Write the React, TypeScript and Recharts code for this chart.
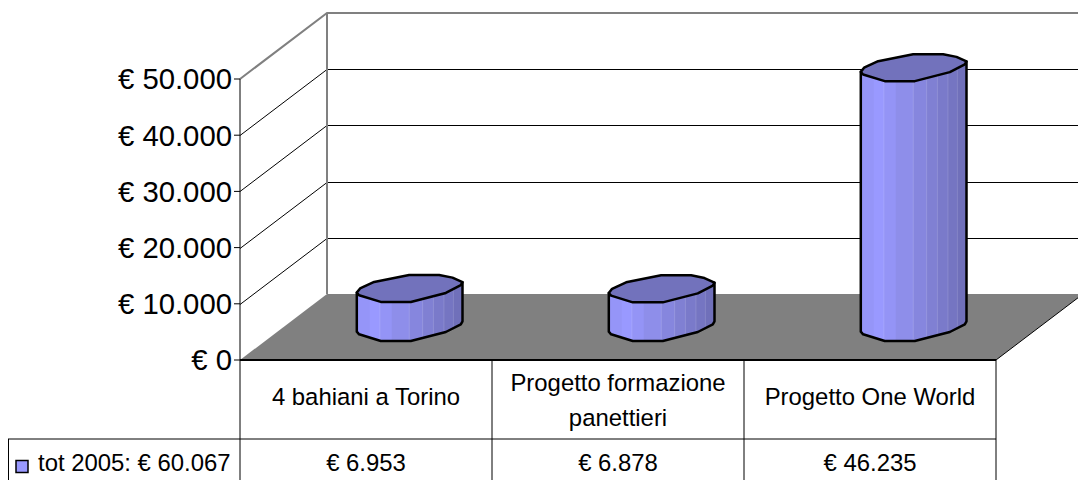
import { BarChart, Bar, XAxis, YAxis } from 'recharts';

const categories = ['4 bahiani a Torino', 'Progetto formazione panettieri', 'Progetto One World'];
const categoryLines = [['4 bahiani a Torino'], ['Progetto formazione', 'panettieri'], ['Progetto One World']];
const values = [6953, 6878, 46235];
const valueLabels = ['€ 6.953', '€ 6.878', '€ 46.235'];
const yTicks = [0, 10000, 20000, 30000, 40000, 50000];
const seriesName = 'tot 2005: € 60.067';

const data = categories.map((name, i) => ({ name, value: values[i] }));

const W = 1078;
const H = 480;
const FONT = '"Liberation Sans", Arial, sans-serif';

// front plane of the 3D box
const LEFT = 240;
const RIGHT = 996;
const TOP = 79;
const BASE = 360;
const DX = 87;
const DY = 66;
const TABLE_ROW = 439;

// facets of the cylinder body, left to right
const stripStops = [0, 0.124, 0.22, 0.333, 0.5, 0.627, 0.73, 0.83, 0.92, 1];
const stripColors = ['#9595F8', '#9999FF', '#9494F6', '#8E8EEA', '#8686DE', '#8080D3', '#7A7ACA', '#7575C2', '#7070BA'];
const seamStops = [0.22, 0.5, 0.627, 0.73, 0.83, 0.92];

// outline of the top cap: u is share of the width, v is px from the cap centre
const capOutline: [number, number][] = [
  [0, 4.2], [0.031, 0], [0.164, -6.5], [0.495, -13.5], [0.779, -13.5], [0.905, -10.8],
  [1, -6.2], [0.984, -3.2], [0.842, 4.5], [0.511, 13.5], [0.227, 13.5], [0.022, 6.8],
];
const bottomOutline: [number, number][] = [
  [1, -6.2], [0.984, -3.2], [0.842, 4.5], [0.511, 13.5], [0.227, 13.5], [0.022, 6.8], [0, 4.2],
];

const Cylinder = (props: any) => {
  const { x, y, width, height, index } = props;
  const cx = x + DX / 2 - 0.7;
  const cy = y - DY / 2 + 0.5;
  const pt = (u: number, v: number, top: number) => `${cx + u * (width + 0.7)},${top + v}`;
  const cap = capOutline.map(([u, v]) => pt(u, v, cy)).join(' ');
  const body = [
    pt(0, 4.2, cy),
    pt(1, -6.2, cy),
    ...bottomOutline.map(([u, v]) => pt(u, v, cy + height)),
  ].join(' ');
  const clipId = `cyl-${index}`;
  return (
    <g>
      <clipPath id={clipId}>
        <polygon points={body} />
      </clipPath>
      <g clipPath={`url(#${clipId})`}>
        {stripColors.map((c, i) => (
          <rect
            key={i}
            x={cx + stripStops[i] * width}
            y={cy - 20}
            width={(stripStops[i + 1] - stripStops[i]) * width + 1}
            height={height + 40}
            fill={c}
          />
        ))}
        {seamStops.map((s) => (
          <line
            key={s}
            x1={cx + s * width}
            x2={cx + s * width}
            y1={cy - 20}
            y2={cy + height + 20}
            stroke="#fff"
            strokeOpacity={0.14}
          />
        ))}
      </g>
      <polygon points={body} fill="none" stroke="#000" strokeWidth={2.5} strokeLinejoin="round" />
      <polygon points={cap} fill="#7272BC" stroke="#000" strokeWidth={2.5} strokeLinejoin="round" />
    </g>
  );
};

const TableTick = (props: any) => {
  const { x, index } = props;
  const lines = categoryLines[index];
  return (
    <g fontFamily={FONT} fontSize={23.9} fill="#000" textAnchor="middle">
      {lines.map((l, i) => (
        <text key={l} x={x} y={lines.length === 1 ? 405 : 391 + i * 35}>{l}</text>
      ))}
      <text x={x} y={471}>{valueLabels[index]}</text>
    </g>
  );
};

const yOf = (v: number) => BASE - (v / yTicks[yTicks.length - 1]) * (BASE - TOP);

export default function App() {
  const colW = (RIGHT - LEFT) / categories.length;
  return (
    <div style={{ width: W, height: H, overflow: 'hidden', background: '#fff' }}>
      <style>{'body{margin:0}'}</style>
      <BarChart
        width={W}
        height={H}
        data={data}
        margin={{ top: TOP, right: W - RIGHT, bottom: 0, left: 0 }}
      >
        {/* floor */}
        <polygon
          points={`${LEFT},${BASE} ${LEFT + DX},${BASE - DY} ${RIGHT + DX},${BASE - DY} ${RIGHT},${BASE}`}
          fill="#808080"
        />
        {/* gridlines on both walls, snapped so the back part stays crisp */}
        {yTicks.slice(1, -1).map((t) => {
          const back = Math.round(yOf(t) - DY) + 0.5;
          return (
            <polyline
              key={t}
              points={`${LEFT},${back + DY} ${LEFT + DX},${back} ${W},${back}`}
              fill="none"
              stroke="#000"
            />
          );
        })}
        {/* wall frame */}
        <polyline
          points={`${LEFT},${TOP} ${LEFT + DX},${TOP - DY} ${W},${TOP - DY}`}
          fill="none"
          stroke="#808080"
          strokeWidth={2}
        />
        <line x1={LEFT + DX} y1={TOP - DY} x2={LEFT + DX} y2={BASE - DY} stroke="#808080" strokeWidth={2} />
        <line x1={RIGHT} y1={BASE} x2={RIGHT + DX} y2={BASE - DY} stroke="#000" />
        {/* data table */}
        <line x1={8} y1={TABLE_ROW} x2={RIGHT} y2={TABLE_ROW} stroke="#000" />
        <line x1={LEFT} y1={BASE} x2={RIGHT} y2={BASE} stroke="#000" strokeWidth={2} />
        <line x1={8.5} y1={TABLE_ROW} x2={8.5} y2={H} stroke="#000" />
        {[0, 1, 2, 3].map((i) => (
          <line key={i} x1={LEFT + i * colW} y1={BASE} x2={LEFT + i * colW} y2={H} stroke="#000" />
        ))}
        <rect x={16} y={460.5} width={12} height={12} fill="#9999FF" stroke="#000" strokeWidth={1.5} />
        <text x={38} y={471} fontFamily={FONT} fontSize={23.9} fill="#000">{seriesName}</text>

        <XAxis
          dataKey="name"
          axisLine={false}
          tickLine={false}
          height={H - BASE}
          interval={0}
          tick={<TableTick />}
        />
        <YAxis
          width={LEFT}
          domain={[0, 50000]}
          ticks={yTicks}
          interval={0}
          tickSize={6}
          tickMargin={2}
          stroke="#000"
          tick={{ fill: '#000', fontSize: 29.3, fontFamily: FONT }}
          tickFormatter={(v: number) => `€ ${v === 0 ? '0' : v.toLocaleString('de-DE')}`}
        />
        <Bar dataKey="value" barSize={105} isAnimationActive={false} shape={<Cylinder />} />
      </BarChart>
    </div>
  );
}
